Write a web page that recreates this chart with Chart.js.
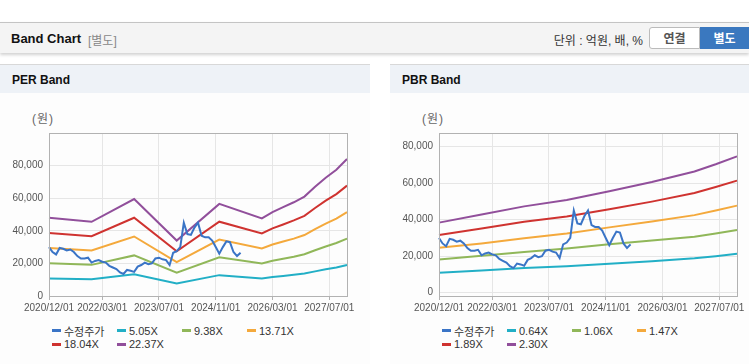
<!DOCTYPE html>
<html>
<head>
<meta charset="utf-8">
<script src="https://cdn.jsdelivr.net/npm/chart.js@4"></script>
<style>
  body { margin: 0; width: 749px; height: 364px; background: #fff; overflow: hidden;
         font-family: "Liberation Sans", Arial, "Noto Sans CJK KR", sans-serif; position: relative; }
  .topbar { position: absolute; left: 0; top: 22px; width: 749px; height: 30px; background: #f4f4f4;
            border-top: 1px solid #c4c4c4; box-shadow: 0 2px 3px rgba(0,0,0,0.18); }
  .topbar .title { position: absolute; left: 11px; top: 8px; font-size: 13px; font-weight: bold; color: #111; }
  .topbar .sub { position: absolute; left: 88px; top: 8px; font-size: 12px; color: #888; }
  .topbar .unit { position: absolute; right: 106px; top: 8px; font-size: 12px; color: #333; }
  .btn { position: absolute; top: 4px; height: 22px; line-height: 22px; text-align: center;
         font-size: 12px; font-weight: bold; box-sizing: border-box; }
  .btn.off { left: 649px; width: 51px; background: #fff; color: #555; border: 1px solid #bbb; border-radius: 3px 0 0 3px; }
  .btn.on { left: 700px; width: 49px; background: #3a78bf; color: #fff; border: 1px solid #3a78bf; }
  .panel { position: absolute; top: 64px; height: 299px; background: #fdfdfd;
           border-top: 1px solid #d8d8d8; border-bottom: 1px solid #cfcfcf; }
  .panel .head { height: 28px; background: #eef2f7; }
  .panel .head span { position: absolute; left: 12px; top: 8px; font-size: 12px; font-weight: bold; color: #111; }
  .unitlbl { position: absolute; top: 44px; font-size: 12px; color: #666; letter-spacing: 1px; }
  .panel canvas { position: absolute; left: 0; top: 56px; }
  .legend { position: absolute; left: 52px; top: 259px; display: grid;
            grid-template-columns: repeat(4, 65px); grid-auto-rows: 13.5px; font-size: 11px; color: #333; }
  .legend div { display: flex; align-items: center; white-space: nowrap; }
  .legend i { display: inline-block; width: 9px; height: 3px; margin-right: 3px; }
</style>
</head>
<body>
<div class="topbar">
  <span class="title">Band Chart</span><span class="sub">[별도]</span>
  <span class="unit">단위 : 억원, 배, %</span>
  <div class="btn off">연결</div><div class="btn on">별도</div>
</div>

<div class="panel" style="left:0;width:370px">
  <div class="head"><span>PER Band</span></div>
  <div class="unitlbl" style="left:32px">(원)</div>
  <canvas id="perChart" width="370" height="200"></canvas>
  <div class="legend" id="perLegend"></div>
</div>

<div class="panel" style="left:390px;width:359px">
  <div class="head"><span>PBR Band</span></div>
  <div class="unitlbl" style="left:32px">(원)</div>
  <canvas id="pbrChart" width="359" height="200"></canvas>
  <div class="legend" id="pbrLegend"></div>
</div>

<script>
// monthly categories 2020/12 .. 2027/12
var months = [];
for (var y = 2020, m = 12; y < 2028; ) {
  months.push(y + '/' + (m < 10 ? '0' + m : m) + '/01');
  m++; if (m > 12) { m = 1; y++; }
}
var xTickLabels = ['2020/12/01', '2022/03/01', '2023/07/01', '2024/11/01', '2026/03/01', '2027/07/01'];
var yTickValues = [0, 20000, 40000, 60000, 80000];

// 수정주가, monthly 2020/12 .. 2025/06
var price = [30000, 27000, 25500, 29500, 29000, 28000, 28500, 27000, 24500, 23000,
             23000, 23500, 20500, 21500, 22000, 21000, 20500, 18500, 17500, 16500,
             14500, 13500, 16000, 15500, 14800, 18000, 19000, 20500, 19500, 20000,
             23000, 23500, 22500, 22000, 19000, 26500, 27500, 30000, 45000, 38000,
             37500, 42000, 45000, 37000, 36000, 36000, 34000, 30000, 26000, 30000,
             33500, 33000, 27000, 24500, 26500];

// PER band
var perNames = ['5.05X', '9.38X', '13.71X', '18.04X', '22.37X'];
var perDates = ['2020/12/01', '2021/12/01', '2022/12/01', '2023/12/01', '2024/12/01', '2025/12/01',
                '2026/03/01', '2026/06/01', '2026/09/01', '2026/12/01', '2027/03/01', '2027/06/01',
                '2027/09/01', '2027/12/01'];
var per505  = [10800, 10300, 13400, 7700, 12800, 10700, 11600, 12300, 13000, 13800, 15100, 16400, 17500, 19000];
var per938  = [20100, 19100, 24900, 14300, 23700, 20000, 21600, 22900, 24100, 25600, 28100, 30400, 32500, 35200];
var per1371 = [29400, 27900, 36500, 20800, 34600, 29200, 31600, 33400, 35200, 37400, 41100, 44400, 47500, 51500];
var per1804 = [38700, 36700, 48000, 27400, 45600, 38400, 41500, 43900, 46400, 49200, 54000, 58500, 62500, 67700];
var per2237 = [48000, 45500, 59500, 34000, 56500, 47600, 51500, 54500, 57500, 61000, 67000, 72500, 77500, 84000];

// PBR band
var pbrNames = ['0.64X', '1.06X', '1.47X', '1.89X', '2.30X'];
var pbrDates = ['2020/12/01', '2021/12/01', '2022/12/01', '2023/12/01', '2024/12/01', '2025/12/01',
                '2026/12/01', '2027/06/01', '2027/12/01'];
var pbr064 = [11000, 12200, 13500, 14500, 15900, 17300, 18900, 20000, 21300];
var pbr106 = [18200, 20200, 22300, 24200, 26600, 28600, 30700, 32500, 34300];
var pbr147 = [24600, 27000, 29800, 32500, 35800, 39000, 42500, 45000, 47700];
var pbr189 = [31600, 35200, 38900, 41700, 45700, 49900, 54600, 57900, 61400];
var pbr230 = [38400, 42800, 47300, 50800, 55600, 60700, 66400, 70400, 74700];

var priceName = '수정주가';
var priceColor = '#3a74c6';
var bandColors = ['#22afc6', '#90b759', '#f4a93c', '#cf3330', '#914f9b'];

function pairs(dates, vals) {
  return vals.map(function (v, i) { return { x: dates[i], y: v }; });
}

var plotBorder = {
  id: 'plotBorder',
  afterDatasetsDraw: function (chart) {
    var a = chart.chartArea, c = chart.ctx;
    c.save();
    c.strokeStyle = '#b2b2b2';
    c.lineWidth = 1;
    c.strokeRect(Math.round(a.left) + 0.5, Math.round(a.top) + 0.5,
                 Math.round(a.right - a.left), Math.round(a.bottom - a.top));
    c.restore();
  }
};

function makeChart(id, bandDates, bands, names, yMin, yMax, rightPad) {
  var datasets = [{
    label: priceName,
    data: price,
    borderColor: priceColor,
    borderWidth: 2,
    pointRadius: 0,
    fill: false
  }];
  bands.forEach(function (b, i) {
    datasets.push({
      label: names[i],
      data: pairs(bandDates, b),
      borderColor: bandColors[i],
      borderWidth: 2,
      pointRadius: 0,
      fill: false
    });
  });

  return new Chart(document.getElementById(id).getContext('2d'), {
    type: 'line',
    data: { labels: months, datasets: datasets },
    plugins: [plotBorder],
    options: {
      responsive: false,
      animation: false,
      layout: { padding: { top: 8, right: rightPad, left: 0, bottom: 0 } },
      plugins: { legend: { display: false }, tooltip: { enabled: false } },
      scales: {
        x: {
          type: 'category',
          offset: false,
          afterBuildTicks: function (scale) {
            scale.ticks = scale.ticks.filter(function (t) {
              return xTickLabels.indexOf(months[t.value]) >= 0;
            });
          },
          afterFit: function (scale) { scale.height = 25; },
          border: { display: false },
          grid: { color: '#e6e6e6', tickColor: '#b2b2b2', tickLength: 4 },
          ticks: { autoSkip: false, maxRotation: 0, padding: 2, color: '#555',
                   font: { size: 10, family: '"Liberation Sans", Arial, sans-serif' } }
        },
        y: {
          min: yMin,
          max: yMax,
          afterBuildTicks: function (scale) {
            scale.ticks = yTickValues.map(function (v) { return { value: v }; });
          },
          afterFit: function (scale) { scale.width = 49; },
          border: { display: false },
          grid: { color: '#e6e6e6', drawTicks: false },
          ticks: {
            padding: 6,
            color: '#555',
            font: { size: 10, family: '"Liberation Sans", Arial, sans-serif' },
            callback: function (v) { return v.toLocaleString('en-US'); }
          }
        }
      }
    }
  });
}

function makeLegend(id, names) {
  var el = document.getElementById(id);
  var items = [[priceName, priceColor]];
  names.forEach(function (n, i) { items.push([n, bandColors[i]]); });
  items.forEach(function (it) {
    var d = document.createElement('div');
    var mark = document.createElement('i');
    mark.style.background = it[1];
    d.appendChild(mark);
    d.appendChild(document.createTextNode(it[0]));
    el.appendChild(d);
  });
}

makeChart('perChart', perDates, [per505, per938, per1371, per1804, per2237], perNames, 0, 100000, 23);
makeChart('pbrChart', pbrDates, [pbr064, pbr106, pbr147, pbr189, pbr230], pbrNames, -1800, 87500, 12);
makeLegend('perLegend', perNames);
makeLegend('pbrLegend', pbrNames);
</script>
</body>
</html>
